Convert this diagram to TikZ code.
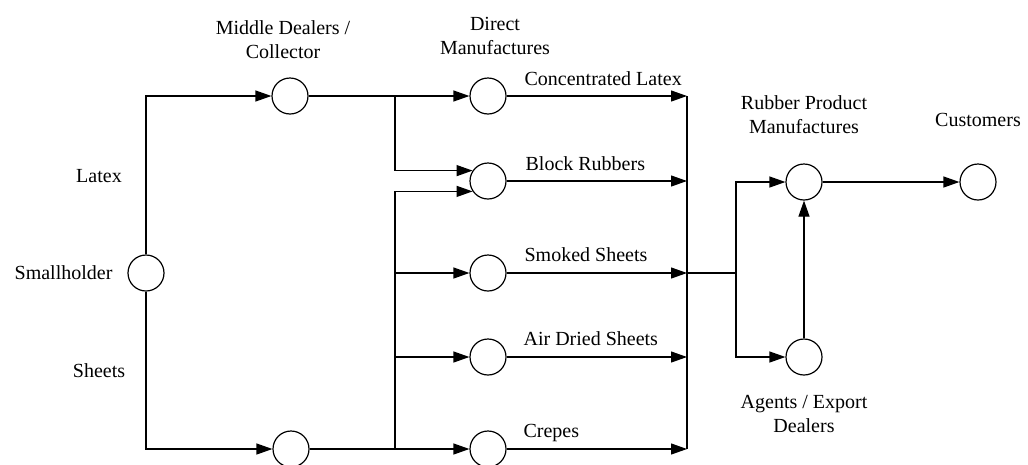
\documentclass[tikz,border=0pt]{standalone}
\usepackage{fontspec}
\setmainfont{Liberation Serif}
\usetikzlibrary{arrows.meta}
\begin{document}
\begin{tikzpicture}[x=1pt,y=-1pt,
  line width=1.2pt,
  state/.style={circle,draw,minimum size=36pt,inner sep=0pt,line width=1.2pt},
  lbl/.style={font=\fontsize{20}{24}\selectfont,inner sep=0pt,align=center},
  flow/.style={-{Triangle[length=16pt,width=11pt]}}]
\useasboundingbox (0,0) rectangle (1028,464);
% nodes
\node[state] (sh) at (146,273) {};
\node[state] (md) at (290,96) {};
\node[state] (mb) at (291,449) {};
\node[state] (cl) at (488,96) {};
\node[state] (br) at (488,181) {};
\node[state] (ss) at (488,273) {};
\node[state] (ad) at (488,357) {};
\node[state] (cr) at (488,449) {};
\node[state] (rpm) at (804,182) {};
\node[state] (ag) at (804,357) {};
\node[state] (cu) at (978,182) {};
% junction coordinates
\coordinate (j1) at (395,96);
\coordinate (j2) at (395,449);
\coordinate (rt) at (687,96);
\coordinate (rb) at (687,449);
\coordinate (k) at (736,273);
% labels
\node[lbl] (tmd) at (283,40) {Middle Dealers /\\Collector};
\node[lbl] (tdm) at (495,36) {Direct\\Manufactures};
\node[lbl,anchor=base west] (tcl) at (524,85) {Concentrated Latex};
\node[lbl,anchor=base west] (tbr) at (525,170) {Block Rubbers};
\node[lbl,anchor=base west] (tss) at (524,261) {Smoked Sheets};
\node[lbl,anchor=base west] (tad) at (523,345) {Air Dried Sheets};
\node[lbl,anchor=base west] (tcr) at (523,437) {Crepes};
\node[lbl,anchor=base] (tla) at (99,182) {Latex};
\node[lbl,anchor=base east] (tsh) at (113,279) {Smallholder};
\node[lbl,anchor=base] (tsht) at (99,377) {Sheets};
\node[lbl] (trpm) at (804,115) {Rubber Product\\Manufactures};
\node[lbl] (tcu) at (978,120) {Customers};
\node[lbl] (tag) at (804,414) {Agents / Export\\Dealers};
% connectors
\draw[flow] (sh.north) |- (md.west);
\draw[flow] (sh.south) |- (mb.west);
\draw[flow] (md.east) -- (cl.west);
\draw[flow] (j1) |- (br.146);
\draw[flow] (mb.east) -- (cr.west);
\draw[flow] (j2) |- (br.214);
\draw[flow] (j2 |- ss.west) -- (ss.west);
\draw[flow] (j2 |- ad.west) -- (ad.west);
\draw (rt) -- (rb);
\draw[flow] (cl.east) -- (cl.east -| rt);
\draw[flow] (br.east) -- (br.east -| rt);
\draw[flow] (ss.east) -- (ss.east -| rt);
\draw[flow] (ad.east) -- (ad.east -| rt);
\draw[flow] (cr.east) -- (cr.east -| rt);
\draw (ss.east -| rt) -- (k);
\draw[flow] (k) |- (rpm.west);
\draw[flow] (k) |- (ag.west);
\draw[flow] (ag.north) -- (rpm.south);
\draw[flow] (rpm.east) -- (cu.west);
\end{tikzpicture}
\end{document}
